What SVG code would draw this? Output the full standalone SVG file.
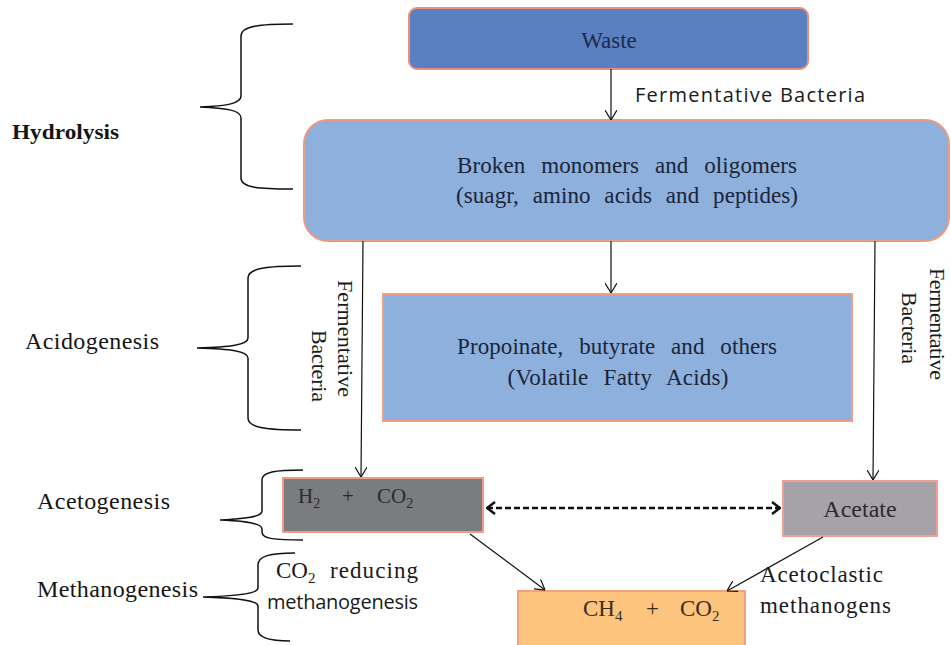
<svg xmlns="http://www.w3.org/2000/svg" width="951" height="645" viewBox="0 0 951 645">
<defs>
<style>
.box{stroke-width:2}
.serif{font-family:"Liberation Serif","Times New Roman",serif}
.sans{font-family:"Open Sans","Liberation Sans",sans-serif}
.lbl{font-family:"Liberation Serif","Times New Roman",serif;font-size:24px;fill:#151515}
.brace{fill:none;stroke:#111;stroke-width:1.5}
.conn{fill:none;stroke:#111;stroke-width:1.2}
.dash{fill:none;stroke:#111;stroke-width:2.4;stroke-dasharray:6 3}
</style>
<marker id="arr" viewBox="0 0 10 12" refX="10" refY="6" markerWidth="10" markerHeight="12" orient="auto" markerUnits="userSpaceOnUse">
<path d="M0,0 L10,6 L0,12" fill="none" stroke="#111" stroke-width="1.2"/>
</marker>
<marker id="darr" viewBox="0 0 10 14" refX="9" refY="7" markerWidth="10" markerHeight="14" orient="auto-start-reverse" markerUnits="userSpaceOnUse">
<path d="M1,1 L9,7 L1,13" fill="none" stroke="#111" stroke-width="2.4"/>
</marker>
</defs>
<rect width="951" height="645" fill="#ffffff"/>

<g id="labels">
<text x="12" y="139" class="serif" font-size="22" font-weight="bold" fill="#151515" textLength="107" lengthAdjust="spacingAndGlyphs">Hydrolysis</text>
<path class="brace" d="M293,24 C260,24 241,26 241,36 L241,96 C241,104 225,106 200,107 C225,108 241,110 241,118 L241,178 C241,188 260,189 293,189"/>
<text x="25" y="349" class="lbl" textLength="134">Acidogenesis</text>
<path class="brace" d="M301,266 C268,266 248,268 248,278 L248,338 C248,345 230,347 197,348 C230,349 248,351 248,358 L248,418 C248,428 268,430 301,430"/>
<text x="37" y="509" class="lbl" textLength="133">Acetogenesis</text>
<path class="brace" d="M303,470 C275,470 262,472 262,480 L262,511 C262,517 245,519 220,520 C245,521 262,523 262,529 L262,532 C262,539 275,540 303,540"/>
<text x="37" y="597" class="lbl" textLength="161">Methanogenesis</text>
<path class="brace" d="M295,553 C270,553 258,556 258,565 L258,588 C258,594 235,596 203,597 C235,598 258,600 258,606 L258,630 C258,638 270,641 290,641"/>
</g>

<g id="waste">
<rect class="box" x="409" y="8" width="399" height="61" rx="8" fill="#5a80c1" stroke="#e8907a"/>
<text x="609" y="48" class="serif" font-size="23" fill="#1c2b4a" text-anchor="middle">Waste</text>
</g>

<g id="monomers">
<rect class="box" x="304" y="120" width="645" height="121" rx="24" fill="#8db0dc" stroke="#ec9a84"/>
<text x="627" y="173" class="serif" font-size="23" fill="#1b2438" text-anchor="middle" word-spacing="10" textLength="340">Broken monomers and oligomers</text>
<text x="627" y="203" class="serif" font-size="23" fill="#1b2438" text-anchor="middle" word-spacing="8" textLength="342">(suagr, amino acids and peptides)</text>
</g>

<g id="vfa">
<rect class="box" x="383" y="294" width="469" height="127" fill="#8db0dc" stroke="#f0a080"/>
<text x="617" y="354" class="serif" font-size="23" fill="#1b2438" text-anchor="middle" word-spacing="10" textLength="320">Propoinate, butyrate and others</text>
<text x="618" y="385" class="serif" font-size="23" fill="#1b2438" text-anchor="middle" word-spacing="9" textLength="221">(Volatile Fatty Acids)</text>
</g>

<g id="h2co2">
<rect class="box" x="283" y="478" width="200" height="54" fill="#7b7c80" stroke="#f09a88"/>
<text class="serif" font-size="21" fill="#2b2b2b" y="503"><tspan x="298">H</tspan><tspan font-size="14" dy="5">2</tspan><tspan x="342" dy="-5">+</tspan><tspan x="377">CO</tspan><tspan font-size="14" dy="5">2</tspan></text>
</g>

<g id="acetate">
<rect class="box" x="783" y="481" width="154" height="55" fill="#a7a2a9" stroke="#f0a090"/>
<text x="860" y="517" class="serif" font-size="24" fill="#2a2a30" text-anchor="middle">Acetate</text>
</g>

<g id="ch4co2">
<rect class="box" x="518" y="591" width="227" height="70" fill="#fcc47d" stroke="#f4a07a"/>
<text class="serif" font-size="23" fill="#3a2e20" y="616"><tspan x="583">CH</tspan><tspan font-size="15" dy="5">4</tspan><tspan x="646" dy="-5">+</tspan><tspan x="680">CO</tspan><tspan font-size="15" dy="5">2</tspan></text>
</g>

<g id="connectors">
<line class="conn" x1="611" y1="69" x2="611" y2="120" marker-end="url(#arr)"/>
<line class="conn" x1="611" y1="241" x2="611" y2="293" marker-end="url(#arr)"/>
<line class="conn" x1="363" y1="241" x2="361" y2="477" marker-end="url(#arr)"/>
<line class="conn" x1="875" y1="241" x2="873" y2="480" marker-end="url(#arr)"/>
<line class="dash" x1="487" y1="508" x2="780" y2="508" marker-start="url(#darr)" marker-end="url(#darr)"/>
<line class="conn" x1="470" y1="534" x2="545" y2="590" marker-end="url(#arr)"/>
<line class="conn" x1="823" y1="537" x2="727" y2="591" marker-end="url(#arr)"/>
</g>

<g id="connector-labels">
<text x="635" y="102" class="sans" font-size="20" fill="#1a1a1a" textLength="230">Fermentative Bacteria</text>
<text class="serif" font-size="22" fill="#1a1a1a" transform="translate(338,280) rotate(90)" textLength="117">Fermentative</text>
<text class="serif" font-size="22" fill="#1a1a1a" transform="translate(312,330) rotate(90)" textLength="72">Bacteria</text>
<text class="serif" font-size="22" fill="#1a1a1a" transform="translate(930,268) rotate(90)" textLength="112">Fermentative</text>
<text class="serif" font-size="22" fill="#1a1a1a" transform="translate(902,292) rotate(90)" textLength="72">Bacteria</text>
<text class="serif" font-size="23" fill="#1a1a1a" y="578"><tspan x="276">CO</tspan><tspan font-size="15" dy="5">2</tspan><tspan x="330" dy="-5" textLength="88">reducing</tspan></text>
<text x="267" y="609" class="sans" font-size="20" fill="#1a1a1a" textLength="151">methanogenesis</text>
<text x="760" y="582" class="serif" font-size="23" fill="#1a1a1a" textLength="123">Acetoclastic</text>
<text x="760" y="613" class="serif" font-size="23" fill="#1a1a1a" textLength="131">methanogens</text>
</g>
</svg>
